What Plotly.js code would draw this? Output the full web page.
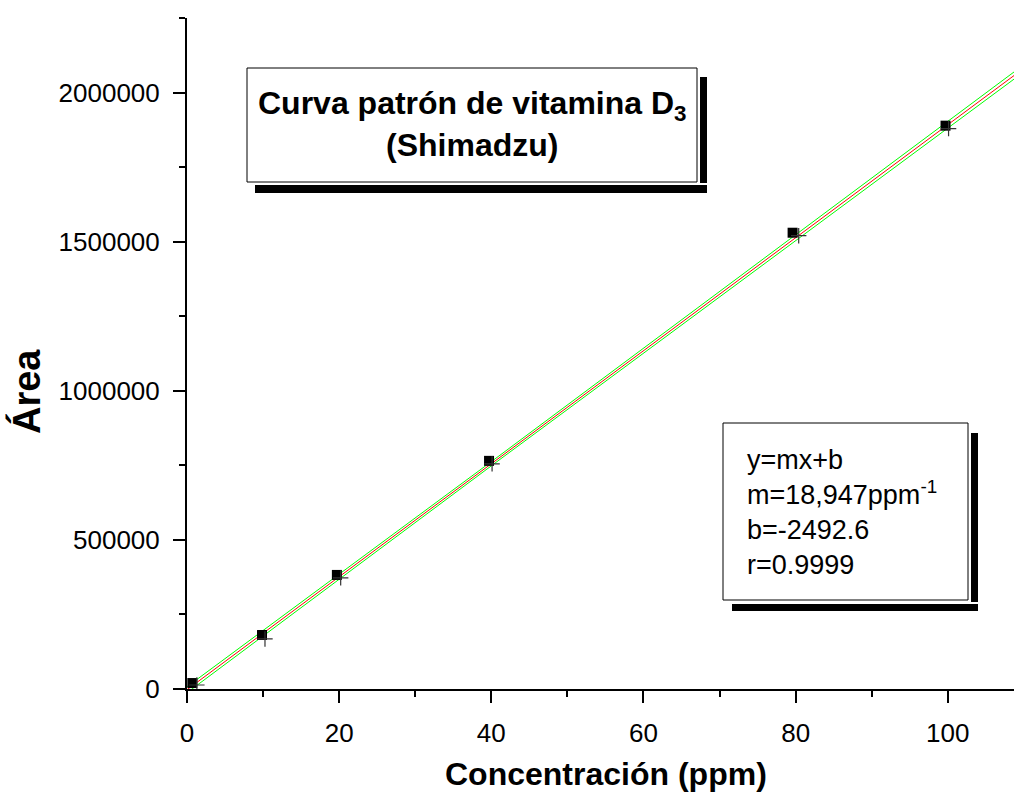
<!DOCTYPE html>
<html>
<head>
<meta charset="utf-8">
<script src="https://cdn.plot.ly/plotly-3.0.1.min.js"></script>
<style>html,body{margin:0;padding:0;background:#fff;}#chart{width:1014px;height:792px;}</style>
</head>
<body>
<div id="chart"></div>
<script>
// Measured standards (black squares)
const concX = [0.7, 9.86, 19.7, 39.7, 79.6, 99.7];
const areaY = [20000, 181000, 382500, 765000, 1530000, 1889000];
// Second series (cross markers)
const crossX = [1.3, 10.25, 20.2, 40.1, 80.4, 100.1];
const crossY = [13400, 167800, 372500, 755000, 1520000, 1879000];
// Linear fit (red) and confidence limits (green)
const fitX = [0, 108.7];
const fitY = [-2492.6, 2057000];
const upperX = [0, 41, 108.7];
const upperY = [7500, 781300, 2069000];
const lowerX = [0, 41, 108.7];
const lowerY = [-12500, 767300, 2045000];
// Axis ticks
const xTicks = [0, 20, 40, 60, 80, 100];
const yTicks = [0, 500000, 1000000, 1500000, 2000000];
const yTickLabels = ['0', '500000', '1000000', '1500000', '2000000'];

const FONT = 'Arial, "Liberation Sans", Helvetica, sans-serif';
const L = 187, R = 1014, T = 18, B = 689;
const PX = p => (p - L) / (R - L);
const PY = p => (B - p) / (B - T);

const traces = [
  {x: upperX, y: upperY, mode: 'lines', line: {color: '#00ff00', width: 1}, hoverinfo: 'skip'},
  {x: lowerX, y: lowerY, mode: 'lines', line: {color: '#00ff00', width: 1}, hoverinfo: 'skip'},
  {x: fitX, y: fitY, mode: 'lines', line: {color: '#ff0000', width: 1}, hoverinfo: 'skip'},
  {x: concX, y: areaY, mode: 'markers', marker: {symbol: 'square', size: 10, color: '#000'}},
  {x: crossX, y: crossY, mode: 'markers', marker: {symbol: 'cross-thin', size: 11, line: {color: '#333', width: 1.2}}}
];

function rect(x0, y0, x1, y1, fill, lineW) {
  return {type: 'rect', xref: 'paper', yref: 'paper', x0: PX(x0), x1: PX(x1), y0: PY(y1), y1: PY(y0),
    fillcolor: fill, line: {color: '#000', width: lineW}, layer: 'above'};
}

const layout = {
  width: 1014, height: 792,
  margin: {l: L, r: 0, t: T, b: 792 - B, pad: 0},
  paper_bgcolor: '#fff', plot_bgcolor: '#fff',
  showlegend: false,
  font: {family: FONT, size: 26, color: '#000'},
  xaxis: {
    range: [0, 108.7], showgrid: false, zeroline: false,
    showline: true, linecolor: '#000', linewidth: 2,
    ticks: 'outside', ticklen: 12, tickwidth: 2, tickcolor: '#000',
    tickvals: xTicks, ticktext: xTicks.map(String), ticklabelstandoff: 8,
    minor: {tickvals: [10, 30, 50, 70, 90], ticks: 'outside', ticklen: 6, tickwidth: 2, tickcolor: '#000'},
    tickfont: {family: FONT, size: 26}
  },
  yaxis: {
    range: [0, 2250000], showgrid: false, zeroline: false,
    showline: true, linecolor: '#000', linewidth: 2,
    ticks: 'outside', ticklen: 12, tickwidth: 2, tickcolor: '#000',
    tickvals: yTicks, ticktext: yTickLabels, ticklabelstandoff: 8,
    minor: {tickvals: [250000, 750000, 1250000, 1750000, 2250000], ticks: 'outside', ticklen: 6, tickwidth: 2, tickcolor: '#000'},
    tickfont: {family: FONT, size: 26}
  },
  shapes: [
    rect(247, 68, 697, 182, '#fff', 1),
    rect(700, 77, 707, 183, '#000', 0),
    rect(255, 185, 707, 193, '#000', 0),
    rect(723, 423, 968, 600, '#fff', 1),
    rect(971, 433, 978, 602, '#000', 0),
    rect(732, 604, 978, 611, '#000', 0)
  ],
  annotations: [
    {xref: 'paper', yref: 'paper', x: PX(606), y: PY(774), xanchor: 'center', yanchor: 'middle',
     text: '<b>Concentración (ppm)</b>', showarrow: false, font: {family: FONT, size: 32}},
    {xref: 'paper', yref: 'paper', x: PX(27), y: PY(392), xanchor: 'center', yanchor: 'middle', textangle: -90,
     text: '<b>Área</b>', showarrow: false, font: {family: FONT, size: 38}},
    {xref: 'paper', yref: 'paper', x: PX(472), y: PY(124), xanchor: 'center', yanchor: 'middle', align: 'center',
     text: '<b>Curva patrón de vitamina D<sub>3</sub></b><br><b>(Shimadzu)</b>', showarrow: false,
     font: {family: FONT, size: 32}},
    {xref: 'paper', yref: 'paper', x: PX(745), y: PY(512), xanchor: 'left', yanchor: 'middle', align: 'left',
     text: 'y=mx+b<br>m=18,947ppm<sup>-1</sup><br>b=-2492.6<br>r=0.9999', showarrow: false,
     font: {family: FONT, size: 27}}
  ]
};

Plotly.newPlot('chart', traces, layout, {displayModeBar: false, staticPlot: true});
</script>
</body>
</html>
